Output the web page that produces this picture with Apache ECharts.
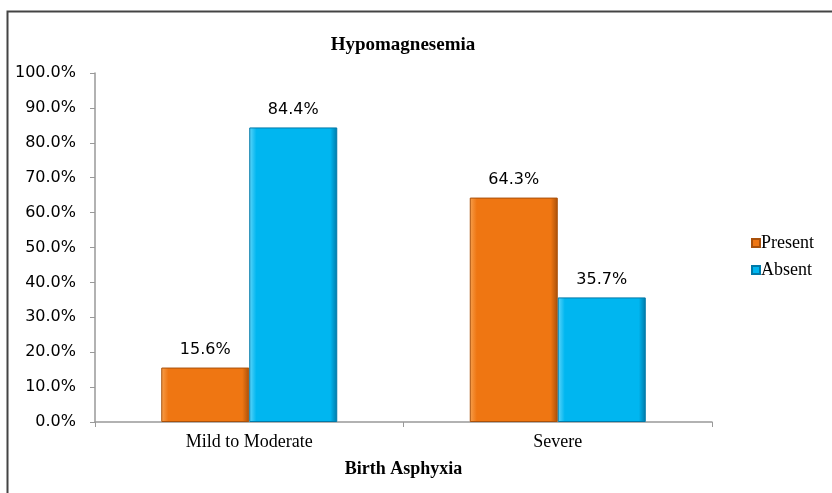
<!DOCTYPE html>
<html lang="en">
<head>
  <meta charset="UTF-8">
  <title>Hypomagnesemia</title>
  <script src="https://cdn.jsdelivr.net/npm/echarts@6.0.0/dist/echarts.min.js"></script>
  <style>
    html, body { margin: 0; padding: 0; background: #fff; }
    #chart { width: 832px; height: 493px; }
  </style>
</head>
<body>
  <div id="chart"></div>
  <script>
    // data
    var categories = ['Mild to Moderate', 'Severe'];
    var presentValues = [15.6, 64.3];
    var absentValues = [84.4, 35.7];
    var seriesNames = ['Present', 'Absent'];

    var serif = 'Liberation Serif, Times New Roman, serif';
    var sans = 'DejaVu Sans, Verdana, sans-serif';

    function barStyle(light, main, dark) {
      return {
        color: new echarts.graphic.LinearGradient(0, 0, 1, 0, [
          { offset: 0, color: light },
          { offset: 0.08, color: main },
          { offset: 0.92, color: main },
          { offset: 1, color: dark }
        ]),
        borderColor: dark,
        borderWidth: 1
      };
    }

    function pct(v) { return v.toFixed(1) + '%'; }

    var chart = echarts.init(document.getElementById('chart'));
    chart.setOption({
      animation: false,
      title: {
        text: 'Hypomagnesemia',
        left: 398, top: 31, textAlign: 'center',
        textStyle: { fontFamily: serif, fontSize: 19, fontWeight: 'bold', color: '#000' }
      },
      legend: {
        orient: 'vertical',
        left: 746, top: 229,
        itemWidth: 8, itemHeight: 8, itemGap: 9,
        icon: 'rect',
        data: seriesNames,
        textStyle: { fontFamily: serif, fontSize: 18, color: '#000', padding: [0, 0, 0, -4] }
      },
      grid: { left: 95, right: 120, top: 73, bottom: 71 },
      xAxis: {
        type: 'category',
        data: categories,
        name: 'Birth Asphyxia',
        nameLocation: 'middle',
        nameGap: 38,
        nameTextStyle: { fontFamily: serif, fontSize: 18, fontWeight: 'bold', color: '#000' },
        axisLine: { lineStyle: { color: '#999', width: 1.5 } },
        axisTick: { show: true, length: 5, lineStyle: { color: '#999' } },
        axisLabel: { fontFamily: serif, fontSize: 18, color: '#000', margin: 11 }
      },
      yAxis: {
        type: 'value',
        min: 0, max: 100, interval: 10,
        axisLine: { show: true, lineStyle: { color: '#999', width: 1.5 } },
        axisTick: { show: true, length: 5, lineStyle: { color: '#999' } },
        splitLine: { show: false },
        axisLabel: {
          fontFamily: sans, fontSize: 16, color: '#000', margin: 19,
          formatter: pct
        }
      },
      series: [
        {
          name: seriesNames[0], type: 'bar', data: presentValues,
          barWidth: 88, barGap: '0%',
          itemStyle: barStyle('#F7A04E', '#EF7612', '#A9500A'),
          label: {
            show: true, position: 'top', distance: 10,
            fontFamily: sans, fontSize: 16, color: '#000',
            formatter: function (p) { return pct(p.value); }
          }
        },
        {
          name: seriesNames[1], type: 'bar', data: absentValues,
          barWidth: 88, barGap: '0%',
          itemStyle: barStyle('#5FD6FA', '#00B6F0', '#0079A8'),
          label: {
            show: true, position: 'top', distance: 10,
            fontFamily: sans, fontSize: 16, color: '#000',
            formatter: function (p) { return pct(p.value); }
          }
        }
      ],
      graphic: [{
        type: 'rect', silent: true,
        shape: { x: 7.5, y: 11.5, width: 900, height: 600 },
        style: { fill: 'none', stroke: '#444', lineWidth: 2 }
      }]
    });
  </script>
</body>
</html>
